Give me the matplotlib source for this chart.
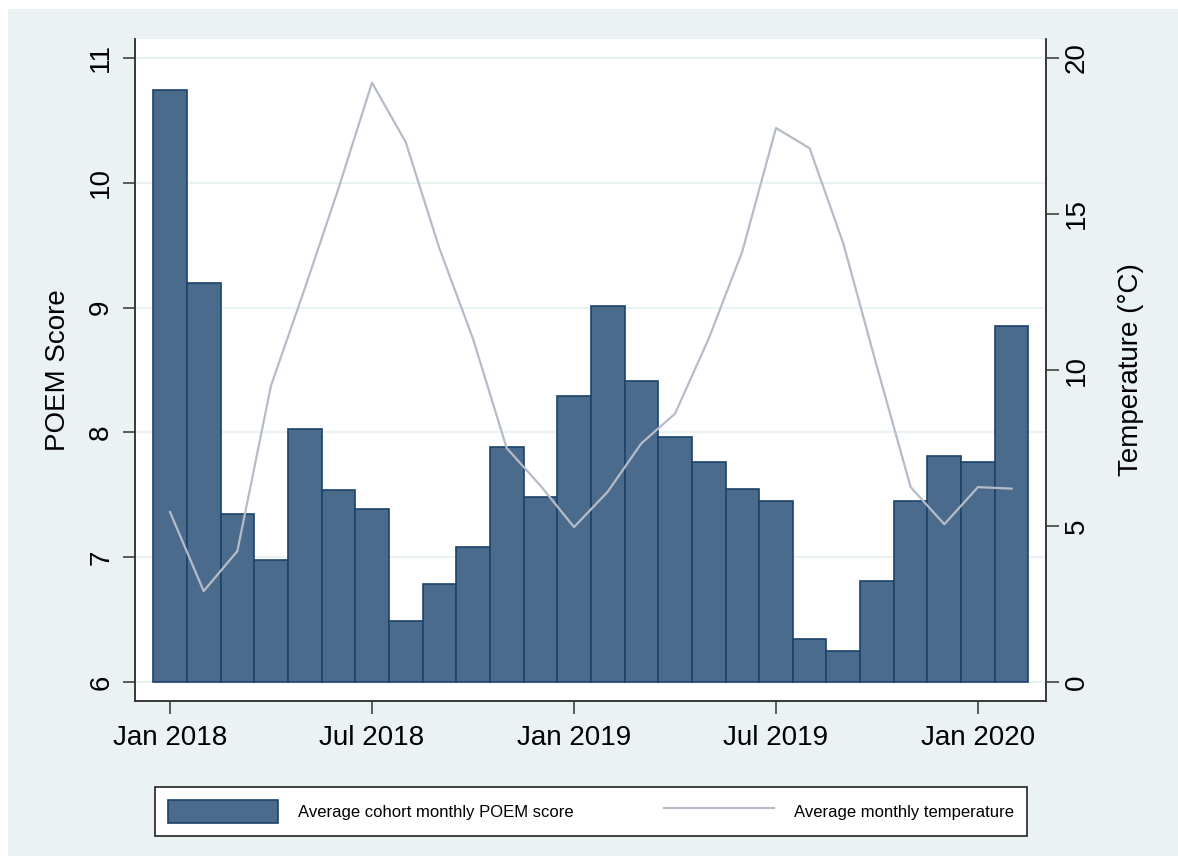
import matplotlib.pyplot as plt
from matplotlib.patches import Rectangle

plt.rcParams['font.family'] = ['Liberation Sans', 'DejaVu Sans']

# monthly data, Jan 2018 .. Feb 2020
months = list(range(26))
poem_score = [10.74, 9.20, 7.35, 6.98, 8.03, 7.54, 7.39, 6.49, 6.79, 7.08, 7.88, 7.48,
              8.29, 9.01, 8.41, 7.96, 7.76, 7.55, 7.45, 6.35, 6.25, 6.81, 7.45, 7.81,
              7.76, 8.85]
temperature = [5.45, 2.92, 4.2, 9.5, 12.6, 15.8, 19.2, 17.3, 13.9, 11.0, 7.5, 6.3,
               4.97, 6.1, 7.65, 8.6, 11.0, 13.8, 17.75, 17.1, 14.05, 10.1, 6.25, 5.06,
               6.25, 6.2]
tick_pos = [0, 6, 12, 18, 24]
tick_names = ["Jan 2018", "Jul 2018", "Jan 2019", "Jul 2019", "Jan 2020"]

bg = "#eaf2f3"
fig = plt.figure(figsize=(11.78, 8.56), dpi=100)
fig.patch.set_facecolor("white")
fig.patches.append(Rectangle((8/1178, 0), 1, 1 - 9/856, transform=fig.transFigure,
                             facecolor=bg, edgecolor="none", zorder=-10))

ax = fig.add_axes([135/1178, 1 - 701/856, 911/1178, 662/856])
ax.set_facecolor("white")

base = 6
heights = [v - base for v in poem_score]
ax.bar(months, heights, width=1.0, bottom=base, color="#4a6b8c",
       edgecolor="#1d4369", linewidth=1.2, zorder=2,
       label="Average cohort monthly POEM score")

ax.set_xlim(-1.04, 26.02)
ax.set_ylim(5.85, 11.15)
ax.set_yticks([6, 7, 8, 9, 10, 11])
ax.grid(axis="y", color=bg, linewidth=1.6, zorder=0)
ax.set_axisbelow(True)
ax.set_xticks(tick_pos)
ax.set_xticklabels(tick_names)
ax.set_ylabel("POEM Score", fontsize=20, labelpad=12)

ax2 = ax.twinx()
ax2.plot(months, temperature, color="#b5bcc7", linewidth=1.6, zorder=3,
         label="Average monthly temperature")
ax2.set_ylim(-0.6, 20.6)
ax2.set_yticks([0, 5, 10, 15, 20])
ax2.set_ylabel("Temperature (°C)", fontsize=20, labelpad=20)

for a in (ax, ax2):
    a.tick_params(axis="both", labelsize=20, length=9, width=1.1, color="#333333")
    a.spines["top"].set_visible(False)
    for s in ("left", "right", "bottom"):
        a.spines[s].set_color("#333333")
        a.spines[s].set_linewidth(1.1)
for lbl in ax.get_yticklabels() + ax2.get_yticklabels():
    lbl.set_rotation(90)
    lbl.set_va("center")
ax.tick_params(axis="y", pad=6)
ax2.tick_params(axis="y", pad=4)
ax.tick_params(axis="x", pad=8)

# legend box below the plot
h1, l1 = ax.get_legend_handles_labels()
h2, l2 = ax2.get_legend_handles_labels()
leg = fig.legend(h1 + h2, l1 + l2, loc="center", ncol=2, mode="expand",
                 bbox_to_anchor=(147/1178, 1 - 838/856, 888/1178, 53/856),
                 fontsize=12, handlelength=6.6, handleheight=1.8,
                 handletextpad=1.2, fancybox=False, framealpha=1,
                 edgecolor="#222222", borderpad=0.75)
leg.get_frame().set_linewidth(1.2)

plt.savefig("out.png", dpi=100, facecolor=fig.get_facecolor())
